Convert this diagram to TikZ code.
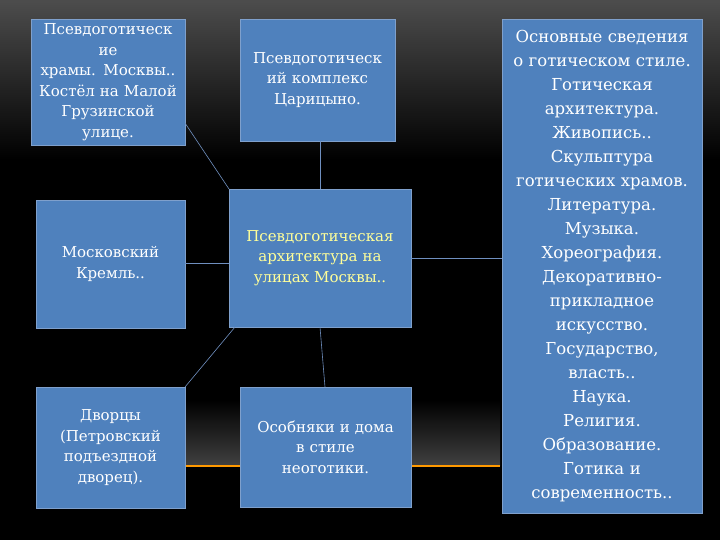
\documentclass[tikz,border=0pt]{standalone}
\usepackage{fontspec}
\setmainfont{DejaVu Serif}
\definecolor{boxblue}{HTML}{4F81BD}
\definecolor{boxline}{HTML}{7FA0CC}
\definecolor{linkc}{HTML}{6F8FBF}
\definecolor{ctext}{HTML}{FFFF99}
\begin{document}
\begin{tikzpicture}[x=1pt,y=-1pt,
  bx/.style={draw=boxline,line width=0.6pt,fill=boxblue,text=white,align=center,inner sep=1pt,
    font=\fontsize{15}{20.5}\selectfont},
  link/.style={draw=linkc,line width=0.6pt}]
\useasboundingbox (0,0) rectangle (720,540);
\fill[black] (0,0) rectangle (720,540);
\shade[top color=black!70!white,bottom color=black] (0,0) rectangle (720,160);
\shade[top color=black,bottom color=black!75!white] (180,400) rectangle (500,465);
\fill[orange!80!yellow] (185,464.5) rectangle (500,467);
\node[bx,minimum width=154,minimum height=126,text width=152] (tl) at (108,82) {Псевдоготическ\\ие\\храмы. Москвы..\\Костёл на Малой\\Грузинской\\улице.};
\node[bx,minimum width=155,minimum height=122,text width=153] (tm) at (317.5,80) {Псевдоготическ\\ий комплекс\\Царицыно.\\[22pt]};
\node[bx,minimum width=182,minimum height=138,text width=180,text=ctext] (c) at (320,258) {Псевдоготическая\\архитектура на\\улицах Москвы..};
\node[bx,minimum width=149,minimum height=128,text width=147] (ml) at (110.5,264) {Московский\\Кремль..\\[26pt]};
\node[bx,minimum width=149,minimum height=121,text width=147] (bl) at (110.5,447.5) {Дворцы\\(Петровский\\подъездной\\дворец).};
\node[bx,minimum width=171,minimum height=120,text width=169] (bm) at (325.5,447) {Особняки и дома\\в стиле\\неоготики.};
\node[bx,minimum width=200,minimum height=494,text width=198,font=\fontsize{16.5}{24}\selectfont] (r) at (602,266) {Основные сведения\\о готическом стиле.\\Готическая\\архитектура.\\Живопись..\\Скульптура\\готических храмов.\\Литература.\\Музыка.\\Хореография.\\Декоративно-\\прикладное\\искусство.\\Государство,\\власть..\\Наука.\\Религия.\\Образование.\\Готика и\\современность..};
\coordinate (a1) at (185,123); \coordinate (a2) at (229,189);
\draw[link] (a1) -- (a2);
\draw[link] (tm.south -| c.north) -- (c.north);
\coordinate (m1) at (185,263);
\draw[link] (m1) -- (c.west |- m1);
\coordinate (b1) at (235,327); \coordinate (b2) at (185,387);
\draw[link] (b1) -- (b2);
\coordinate (d1) at (320,327); \coordinate (d2) at (325,387);
\draw[link] (d1) -- (d2);
\draw[link] (c.east) -- (r.west |- c.east);
\end{tikzpicture}
\end{document}
